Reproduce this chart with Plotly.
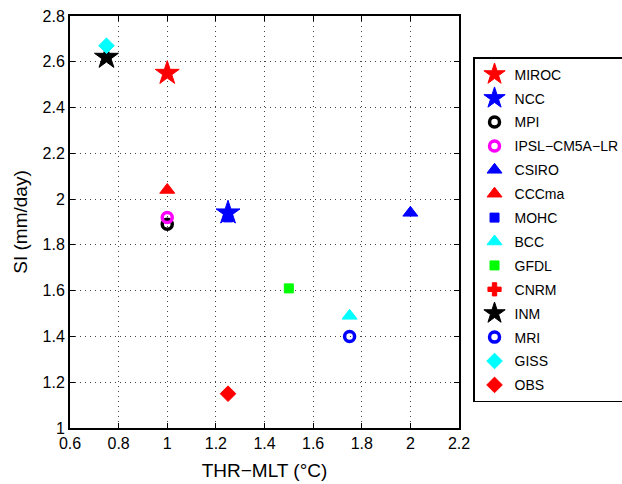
import plotly.graph_objects as go

# Model results: THR-MLT (degC) vs SI (mm/day)
models = ["MIROC", "NCC", "MPI", "IPSL−CM5A−LR", "CSIRO", "CCCma", "MOHC",
          "BCC", "GFDL", "CNRM", "INM", "MRI", "GISS", "OBS"]
thr_mlt = [1.0, 1.25, 1.0, 1.0, 2.0, 1.0, 1.25, 1.75, 1.5, None, 0.75, 1.75, 0.75, 1.25]
si = [2.55, 1.94, 1.89, 1.92, 1.94, 2.04, 1.92, 1.49, 1.61, None, 2.62, 1.40, 2.67, 1.15]

colors = ["#ff0000", "#0000ff", "#000000", "#ff00ff", "#0000ff", "#ff0000", "#0000ff",
          "#00ffff", "#00ff00", "#ff0000", "#000000", "#0000ff", "#00ffff", "#ff0000"]
symbols = ["star", "star", "circle-open", "circle-open", "triangle-up",
           "triangle-up", "square", "triangle-up", "square", "cross",
           "star", "circle-open", "diamond", "diamond"]
sizes = [18, 18, 10, 10, 13, 13, 9, 13, 9, 11, 18, 10, 12, 12]
widths = [1, 1, 3.5, 3.5, 1, 1, 1, 1, 1, 1, 1, 3.5, 1, 1]

x_ticks = [0.6, 0.8, 1.0, 1.2, 1.4, 1.6, 1.8, 2.0, 2.2]
x_tick_text = ["0.6", "0.8", "1", "1.2", "1.4", "1.6", "1.8", "2", "2.2"]
y_ticks = [1.0, 1.2, 1.4, 1.6, 1.8, 2.0, 2.2, 2.4, 2.6, 2.8]
y_tick_text = ["1", "1.2", "1.4", "1.6", "1.8", "2", "2.2", "2.4", "2.6", "2.8"]

fig = go.Figure()
for i, name in enumerate(models):
    fig.add_trace(go.Scatter(
        x=[thr_mlt[i]], y=[si[i]], mode="markers", name=name, legendgroup=name,
        marker=dict(symbol=symbols[i], size=sizes[i], color=colors[i],
                    line=dict(color=colors[i], width=widths[i])),
    ))

font = "Liberation Sans, Arial, Helvetica, sans-serif"
axis_common = dict(
    showline=True, linecolor="black", linewidth=2, mirror="ticks",
    ticks="inside", ticklen=5, tickcolor="black",
    showgrid=True, gridcolor="#444444", griddash="1px,4px", gridwidth=1,
    zeroline=False, tickfont=dict(size=16, color="black", family=font),
)
fig.update_xaxes(range=[0.6, 2.2], tickvals=x_ticks, ticktext=x_tick_text,
                 title=dict(text="THR−MLT (°C)", font=dict(size=19, color="black", family=font),
                            standoff=12),
                 **axis_common)
fig.update_yaxes(range=[1.0, 2.8], tickvals=y_ticks, ticktext=y_tick_text,
                 title=dict(text="SI (mm/day)", font=dict(size=19, color="black", family=font),
                            standoff=10),
                 **axis_common)

fig.update_layout(
    width=622, height=484,
    margin=dict(l=70, r=163, t=16, b=56, autoexpand=False),
    plot_bgcolor="white", paper_bgcolor="white",
    font=dict(family=font, color="black"),
    legend=dict(xref="container", yref="container", x=0.7605, y=0.882,
                xanchor="left", yanchor="top", maxheight=420,
                bordercolor="black", borderwidth=1.5, bgcolor="white",
                font=dict(size=14, color="black", family=font),
                tracegroupgap=2.7, itemsizing="trace", itemwidth=30),
)

fig.write_html("out.html")
